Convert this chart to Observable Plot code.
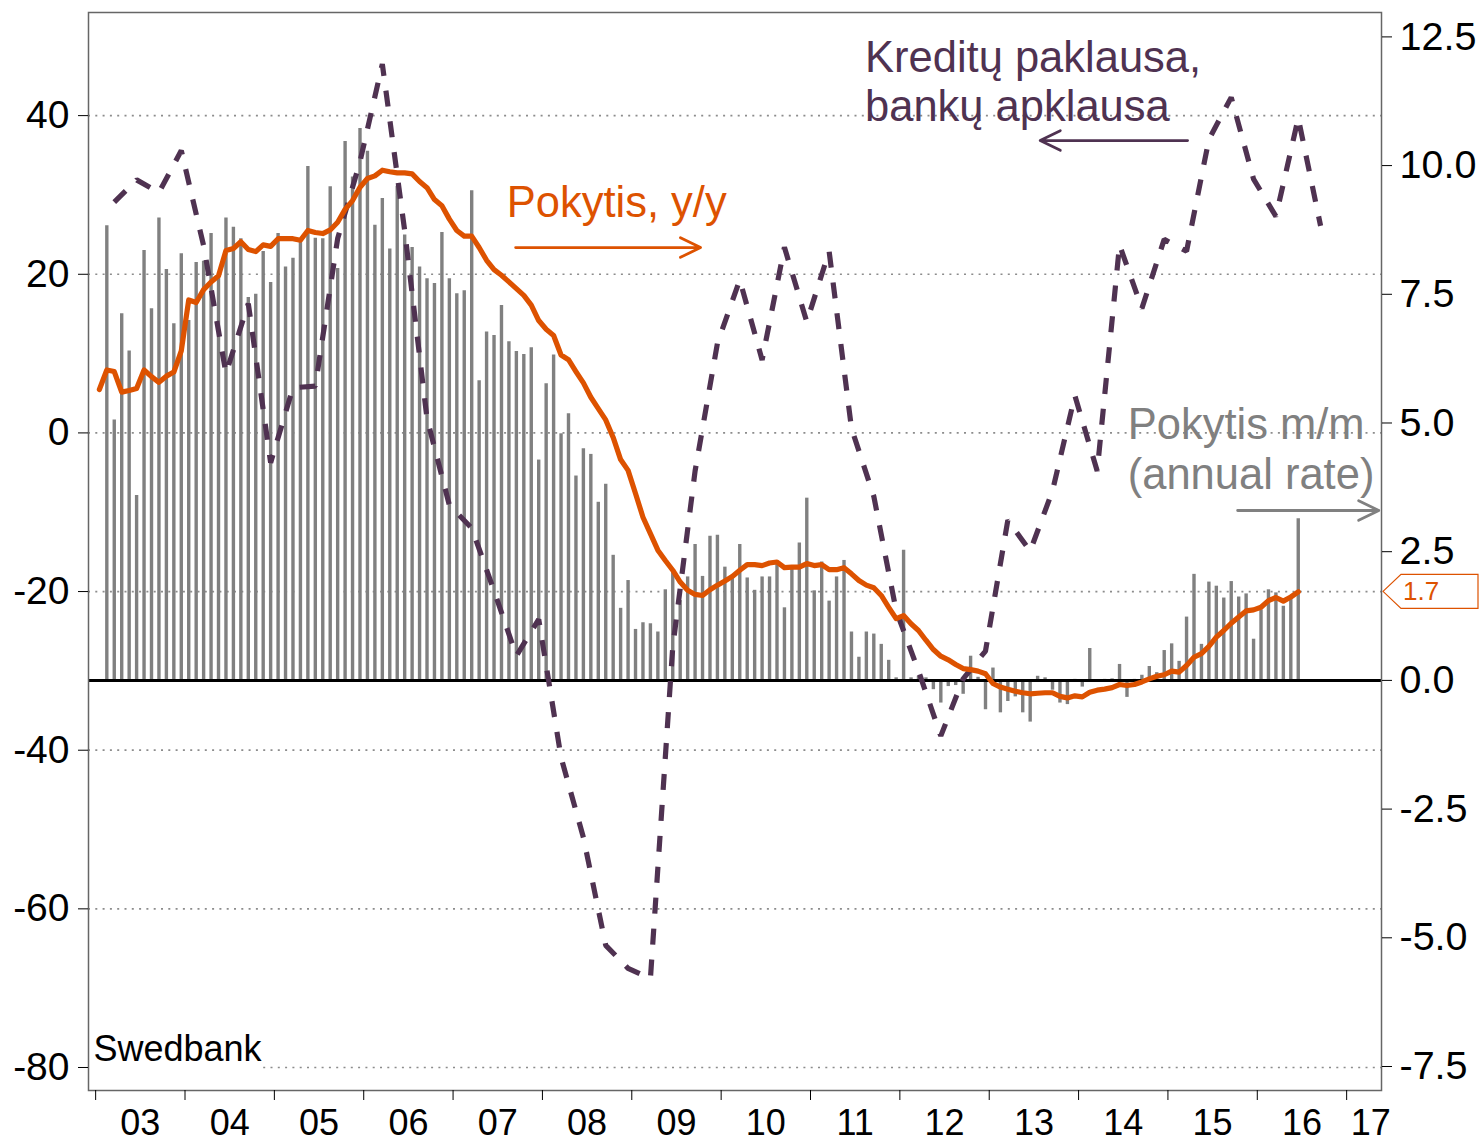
<!DOCTYPE html>
<html><head><meta charset="utf-8">
<script src="https://cdn.jsdelivr.net/npm/d3@7"></script>
<script src="https://cdn.jsdelivr.net/npm/@observablehq/plot@0.6"></script>
<style>
html,body{margin:0;padding:0;background:#fff;}
#chart svg{display:block;overflow:visible;}
</style></head>
<body><div id="chart"></div>
<script>
// ---------- ticks & labels ----------
const leftTicks = [-80, -60, -40, -20, 0, 20, 40];
const rightTicks = [-7.5, -5.0, -2.5, 0.0, 2.5, 5.0, 7.5, 10.0, 12.5];
const yearTicks = [2003,2004,2005,2006,2007,2008,2009,2010,2011,2012,2013,2014,2015,2016,2017];
const yearLabels = ["03","04","05","06","07","08","09","10","11","12","13","14","15","16","17"];

// ---------- series ----------
// Pokytis, y/y (right axis), monthly from Jan 2003
const yoyStart = [2003, 0];
const yoy = [5.65,6.03,6.00,5.60,5.63,5.67,6.03,5.90,5.79,5.91,5.99,6.40,
7.39,7.34,7.59,7.74,7.86,8.35,8.39,8.52,8.37,8.33,8.46,8.43,
8.58,8.58,8.58,8.55,8.74,8.70,8.68,8.75,8.90,9.15,9.32,9.58,
9.75,9.80,9.91,9.88,9.86,9.86,9.84,9.69,9.57,9.34,9.22,8.96,
8.74,8.63,8.63,8.41,8.16,7.98,7.87,7.74,7.61,7.48,7.29,6.99,
6.82,6.70,6.32,6.23,6.00,5.78,5.50,5.28,5.06,4.72,4.29,4.08,
3.63,3.17,2.85,2.53,2.33,2.14,1.91,1.75,1.67,1.65,1.76,1.85,
1.93,2.02,2.14,2.25,2.25,2.23,2.28,2.30,2.19,2.20,2.20,2.27,
2.23,2.25,2.15,2.15,2.19,2.07,1.94,1.85,1.80,1.65,1.42,1.20,
1.26,1.10,0.97,0.78,0.60,0.47,0.40,0.31,0.23,0.21,0.18,0.13,
-0.06,-0.13,-0.17,-0.21,-0.24,-0.26,-0.25,-0.24,-0.24,-0.31,-0.34,-0.30,
-0.32,-0.23,-0.19,-0.17,-0.14,-0.08,-0.10,-0.08,-0.03,0.03,0.08,0.11,
0.18,0.16,0.29,0.45,0.52,0.66,0.84,0.97,1.11,1.23,1.35,1.37,
1.42,1.55,1.61,1.54,1.62,1.72];

// Pokytis m/m (annual rate) (right axis), monthly from Feb 2003
const momStart = [2003, 1];
const mom = [8.83,5.06,7.12,6.40,3.59,8.35,7.22,8.98,7.98,6.93,8.29,
6.99,8.12,8.14,8.68,7.85,8.98,8.80,8.58,7.44,7.50,8.33,7.73,
8.68,8.03,8.20,8.52,9.98,8.59,8.58,9.59,8.00,10.47,9.78,10.72,
10.28,8.84,9.36,8.38,9.60,8.65,8.41,8.03,7.80,7.71,8.70,7.80,
7.51,7.57,9.51,5.82,6.77,6.70,7.28,6.58,6.39,6.33,6.46,4.28,
5.76,6.32,4.79,5.18,3.97,4.50,4.39,3.46,3.81,2.43,1.40,1.94,
0.99,1.12,1.10,0.94,1.76,2.10,1.55,2.01,2.64,2.02,2.80,2.82,
2.20,2.01,2.64,1.99,1.75,2.01,2.01,2.27,1.41,2.19,2.67,3.54,
1.74,2.30,1.54,2.01,2.33,0.94,0.45,0.94,0.90,0.70,0.39,0.05,
2.53,0.05,0.08,0.05,-0.18,-0.44,-0.12,-0.10,-0.27,0.47,0.06,-0.57,
0.24,-0.63,-0.41,-0.32,-0.63,-0.81,0.08,0.05,-0.19,-0.44,-0.47,0.02,
-0.13,0.62,-0.03,0.02,0.03,0.31,-0.33,0.02,0.10,0.27,0.15,0.58,
0.71,0.37,1.23,2.06,0.70,1.91,1.83,1.60,1.92,1.62,1.68,0.80,
1.37,1.76,1.70,1.44,1.62,3.14];

// Kreditų paklausa, bankų apklausa (left axis), quarterly, plotted at Mar/Jun/Sep/Dec from Mar 2003
const surveyStart = [2003, 2];
const surveyStepMonths = 3;
const survey = [29.1,31.9,30.3,35.6,23.6,7.5,16.3,-3.75,5.7,5.9,
24.5,34.2,46.5,25.5,1.8,-9.1,-12.0,-19.9,-28.1,-23.5,
-40.9,-51.0,-64.6,-67.5,-68.8,-27.0,-4.8,11.3,19.3,9.2,
23.4,14.0,22.9,0.6,-8.0,-22.4,-30.0,-38.2,-31.0,-27.5,
-11.0,-14.9,-7.3,4.7,-4.8,23.7,15.7,24.4,22.9,37.0,
42.3,32.0,27.3,39.7,26.1];

// ---------- styles ----------
const ORANGE = "#dd5200", PURPLE = "#4f3251", GRAY = "#808080";
const FONT = '"Liberation Sans", Arial, Helvetica, sans-serif';

// right axis expressed in left-axis units
const L0 = -31.2, K = 6.49;
const toLeft = r => L0 + r * K;
const fromLeft = l => (l - L0) / K;
const monthPos = (start, i, step = 1) => {
  const m = start[1] + i * step;
  return start[0] + (m + 0.5) / 12;
};

const yoyData = yoy.map((v, i) => ({t: monthPos(yoyStart, i), v: toLeft(v)}));
const momData = mom.map((v, i) => ({t: monthPos(momStart, i), v: toLeft(v)}));
const surveyData = survey.map((v, i) => ({t: monthPos(surveyStart, i, surveyStepMonths), v}));

const xDomain = [2002.92, 2017.39];
const yDomain = [-82.9, 53.0];

const labelPos = yearTicks.map(y => (y + Math.min(y + 1, xDomain[1] + 0.15)) / 2);
const labelMap = new Map(labelPos.map((p, i) => [p, yearLabels[i]]));

// annotations (data coordinates: fractional year, left-axis value)
const notes = [
  {text: "Pokytis, y/y", x: 2007.60, y: 27.16, fill: ORANGE},
  {text: "Kreditų paklausa,", x: 2011.61, y: 45.44, fill: PURPLE},
  {text: "bankų apklausa", x: 2011.61, y: 39.38, fill: PURPLE},
  {text: "Pokytis m/m", x: 2014.55, y: -0.83, fill: GRAY},
  {text: "(annual rate)", x: 2014.55, y: -7.01, fill: GRAY}
];
const arrows = [
  {x1: 2007.70, x2: 2009.77, y1: 23.37, y2: 23.37, stroke: ORANGE},
  {x1: 2015.22, x2: 2013.57, y1: 36.86, y2: 36.86, stroke: PURPLE},
  {x1: 2015.78, x2: 2017.36, y1: -9.78, y2: -9.78, stroke: GRAY}
];

const plot = Plot.plot({
  width: 1483,
  height: 1143,
  marginLeft: 88,
  marginRight: 102,
  marginTop: 12,
  marginBottom: 53,
  x: {type: "linear", domain: xDomain},
  y: {type: "linear", domain: yDomain},
  style: {fontFamily: FONT, fontSize: "38px", background: "#fff", color: "#000", overflow: "visible"},
  marks: [
    Plot.ruleY(leftTicks, {stroke: "#8c8c8c", strokeWidth: 1.7, strokeDasharray: "2,5.3"}),
    Plot.rect([{x1: 2002.93, x2: 2004.878, y1: -80.9, y2: -75.3}], {x1: "x1", x2: "x2", y1: "y1", y2: "y2", fill: "#fff"}),
    Plot.ruleX(momData, {x: "t", y1: toLeft(0), y2: "v", stroke: GRAY, strokeWidth: 3.4}),
    Plot.ruleY([toLeft(0)], {stroke: "#000", strokeWidth: 3}),
    Plot.line(surveyData, {x: "t", y: "v", stroke: PURPLE, strokeWidth: 5.2, strokeDasharray: "16,15", strokeLinecap: "butt", strokeLinejoin: "miter"}),
    Plot.line(yoyData, {x: "t", y: "v", stroke: ORANGE, strokeWidth: 5.2}),
    Plot.frame({stroke: "#666", strokeWidth: 1.5}),
    Plot.axisY(leftTicks, {anchor: "left", tickSize: 10, tickPadding: 9, fontSize: 39, tickFormat: d => String(d)}),
    Plot.axisY(rightTicks.map(toLeft), {anchor: "right", tickSize: 10, tickPadding: 8, fontSize: 39.5, tickFormat: d => fromLeft(d).toFixed(1)}),
    Plot.axisX(yearTicks, {anchor: "bottom", tickSize: 10, tickFormat: () => ""}),
    Plot.axisX(labelPos, {anchor: "bottom", tickSize: 0, tickPadding: 19, fontSize: 36, tickFormat: d => labelMap.get(d)}),
    Plot.text(notes, {x: "x", y: "y", text: "text", fill: "fill", fontSize: 43.5, textAnchor: "start", lineAnchor: "bottom"}),
    Plot.arrow(arrows, {x1: "x1", y1: "y1", x2: "x2", y2: "y2", stroke: "stroke", strokeWidth: 2.8, headLength: 12, headAngle: 52}),
    Plot.text(["Swedbank"], {x: 2002.976, y: -79.24, fill: "#000", fontSize: 36, textAnchor: "start", lineAnchor: "bottom"})
  ]
});
document.getElementById("chart").appendChild(plot);

// value tag for last y/y observation, positioned with the plot's own scales
const ys = plot.scale("y"), xs = plot.scale("x");
const last = yoy[yoy.length - 1];
const ty = ys.apply(toLeft(last));
const tx = xs.apply(xDomain[1]);
const svg = d3.select(plot);
const g = svg.append("g");
g.append("path")
  .attr("d", `M${tx + 2},${ty} L${tx + 20},${ty - 17} L${tx + 97},${ty - 17} L${tx + 97},${ty + 17} L${tx + 20},${ty + 17} Z`)
  .attr("fill", "#fff").attr("stroke", ORANGE).attr("stroke-width", 1.2);
g.append("text")
  .attr("x", tx + 22).attr("y", ty + 9)
  .attr("text-anchor", "start")
  .attr("fill", ORANGE).attr("font-size", 26).attr("font-family", FONT)
  .text(last.toFixed(1));
</script></body></html>
